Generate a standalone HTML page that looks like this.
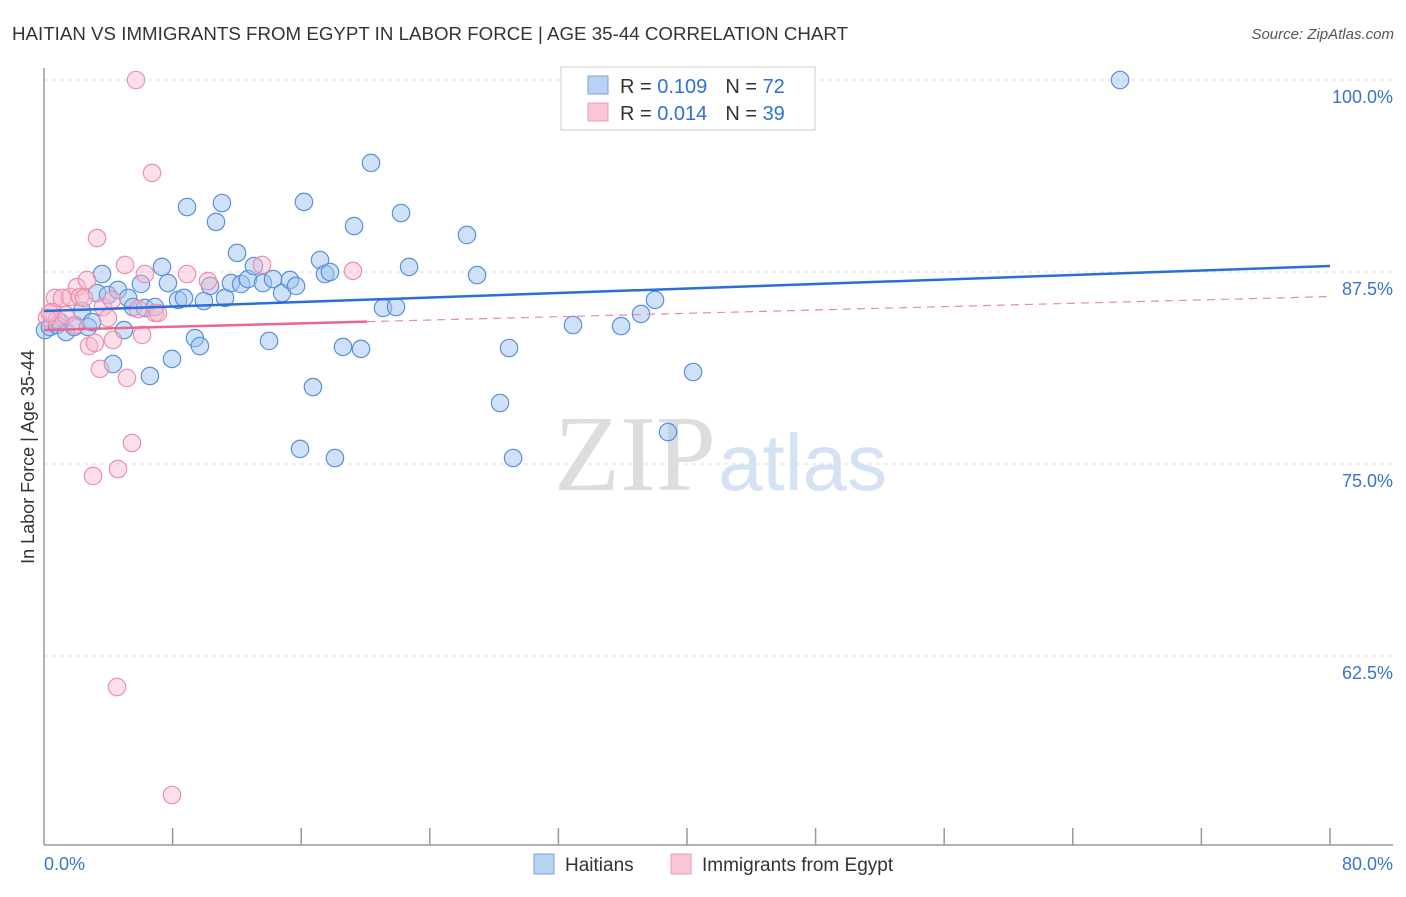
<!DOCTYPE html>
<html><head><meta charset="utf-8"><style>
body{margin:0;background:#fff;font-family:"Liberation Sans",sans-serif;}
</style></head><body>
<svg width="1406" height="892" xmlns="http://www.w3.org/2000/svg">
<text x="12" y="40" font-size="18.7" fill="#333" textLength="836">HAITIAN VS IMMIGRANTS FROM EGYPT IN LABOR FORCE | AGE 35-44 CORRELATION CHART</text>
<text x="1394" y="39" font-size="15" fill="#555" font-style="italic" text-anchor="end">Source: ZipAtlas.com</text>
<text x="716" y="490" font-size="108" fill="#ddd" text-anchor="end" font-family="Liberation Serif,serif">ZIP</text>
<text x="718" y="490" font-size="80" fill="#d4e2f5">atlas</text>
<g id="grid"></g>
<line x1="44" y1="68" x2="44" y2="845" stroke="#999" stroke-width="1.5"/>
<line x1="44" y1="845" x2="1393" y2="845" stroke="#999" stroke-width="1.5"/>
<g id="xticks"></g>
<g id="pts"></g>
<g id="trends"></g>
<text transform="translate(34,457) rotate(-90)" font-size="18" fill="#333" text-anchor="middle">In Labor Force | Age 35-44</text>
<text x="44" y="870" font-size="18" fill="#3b73cc">0.0%</text>
<text x="1393" y="870" font-size="18" fill="#3b73cc" text-anchor="end">80.0%</text>
<g>
<rect x="561" y="67" width="254" height="63" fill="#fff" stroke="#ccc"/>
<rect x="588" y="76" width="20" height="18" fill="#b8d2f4" stroke="#7aa3e0"/>
<rect x="588" y="103" width="20" height="18" fill="#f9c6d5" stroke="#ee9ab3"/>
<text x="620" y="93" font-size="20" fill="#333">R = <tspan fill="#2f6fd6">0.109</tspan><tspan dx="18">N = </tspan><tspan fill="#2f6fd6">72</tspan></text>
<text x="620" y="120" font-size="20" fill="#333">R = <tspan fill="#2f6fd6">0.014</tspan><tspan dx="18">N = </tspan><tspan fill="#2f6fd6">39</tspan></text>
</g>
<g>
<rect x="534" y="854" width="20" height="20" fill="#b8d2f4" stroke="#7aa3e0"/>
<text x="565" y="871" font-size="19" fill="#333">Haitians</text>
<rect x="671" y="854" width="20" height="20" fill="#f9c6d5" stroke="#ee9ab3"/>
<text x="702" y="871" font-size="19" fill="#333">Immigrants from Egypt</text>
</g>
</svg>
<script>
const yTicks=[100,87.5,75,62.5];
const yTickLabels=["100.0%","87.5%","75.0%","62.5%"];
const xTicks=[8,16,24,32,40,48,56,64,72,80];
const blueX=[0.06,0.37,0.81,1.37,1.87,2.36,2.74,2.99,3.30,3.61,3.98,4.29,4.60,4.98,5.23,5.54,6.03,6.28,6.59,6.90,7.34,7.71,7.96,8.34,8.71,8.90,9.39,9.70,9.95,10.33,10.70,11.07,11.26,11.63,12.01,12.26,12.69,13.06,13.62,14.25,14.00,14.81,15.30,15.68,15.93,16.17,16.73,17.17,17.48,17.79,18.10,18.60,19.29,19.72,20.34,21.09,21.90,22.21,22.71,26.31,26.94,28.37,28.93,29.18,32.91,35.90,37.14,38.01,38.82,40.38,66.94,1.00];
const blueY=[83.72,83.92,84.05,83.59,83.92,84.96,83.92,84.24,86.13,87.37,86.00,81.51,86.33,83.72,85.81,85.22,86.72,85.16,80.73,85.22,87.83,86.78,81.84,85.68,85.81,91.73,83.20,82.68,85.61,86.59,90.76,91.99,85.81,86.78,88.74,86.72,87.04,87.89,86.78,87.04,83.01,86.13,86.98,86.59,75.98,92.06,80.01,88.28,87.37,87.50,75.39,82.62,90.49,82.49,94.60,85.16,85.22,91.34,87.83,89.91,87.30,78.97,82.55,75.39,84.05,83.98,84.77,85.68,77.08,80.99,100.0,84.24];
const pinkX=[5.72,6.72,3.30,5.04,6.28,8.90,10.20,13.56,19.22,0.68,1.12,1.62,2.05,2.24,2.67,2.49,3.67,3.98,0.50,0.81,1.37,1.93,2.80,3.17,3.48,4.29,5.16,5.47,4.60,3.05,4.54,7.96,6.10,6.90,5.85,0.19,0.37,4.23,7.09];
const pinkY=[100,93.95,89.71,87.96,87.37,87.37,86.91,87.96,87.57,85.81,85.81,85.87,86.52,85.87,86.98,85.81,85.22,84.51,84.90,84.38,84.70,84.05,82.68,82.88,81.19,83.07,80.60,76.37,74.67,74.22,60.48,53.45,83.40,84.83,85.09,84.51,84.83,85.68,84.83];
const blueTrend=[84.96,87.89];
const pinkTrend=[83.72,85.9];
const pinkSolidEnd=20.1;
const NS="http://www.w3.org/2000/svg";
const xs=v=>44+v/80*1286;
const ys=v=>80+(100-v)*15.36;
function mk(tag,attrs,parent){const e=document.createElementNS(NS,tag);for(const k in attrs)e.setAttribute(k,attrs[k]);document.getElementById(parent).appendChild(e);return e;}
yTicks.forEach((t,i)=>{
 const l=mk('line',{x1:44,x2:1393,y1:ys(t),y2:ys(t),stroke:'#ddd','stroke-dasharray':'4,4'},'grid');
 
 
 const tx=mk('text',{x:1393,y:ys(t)+23,'font-size':18,fill:'#3b73cc','text-anchor':'end'},'grid');
 tx.textContent=yTickLabels[i];
 
 
});
xTicks.forEach(t=>{
 const l=mk('line',{x1:xs(t),x2:xs(t),y1:828,y2:845,stroke:'#999','stroke-width':1.5},'xticks');
 
 
});
blueX.forEach((x,i)=>{
 const c=mk('circle',{cx:xs(x),cy:ys(blueY[i]),r:8.7,fill:'rgba(160,195,240,0.5)',stroke:'#5a8fdc','stroke-width':1.2},'pts');
 
 
});
pinkX.forEach((x,i)=>{
 const c=mk('circle',{cx:xs(x),cy:ys(pinkY[i]),r:8.7,fill:'rgba(248,185,205,0.45)',stroke:'#ec8fae','stroke-width':1.2},'pts');
 
 
});
const bt=mk('line',{x1:xs(0),y1:ys(blueTrend[0]),x2:xs(80),y2:ys(blueTrend[1]),stroke:'#2a6ed8','stroke-width':2.5},'trends');


const pAt=x=>pinkTrend[0]+(pinkTrend[1]-pinkTrend[0])*x/80;
const pd=mk('line',{x1:xs(pinkSolidEnd),y1:ys(pAt(pinkSolidEnd)),x2:xs(80),y2:ys(pinkTrend[1]),stroke:'#e88aa8','stroke-width':1.2,'stroke-dasharray':'8,6'},'trends');


const ps=mk('line',{x1:xs(0),y1:ys(pinkTrend[0]),x2:xs(pinkSolidEnd),y2:ys(pAt(pinkSolidEnd)),stroke:'#e8688f','stroke-width':2.5},'trends');


</script>
</body></html>
